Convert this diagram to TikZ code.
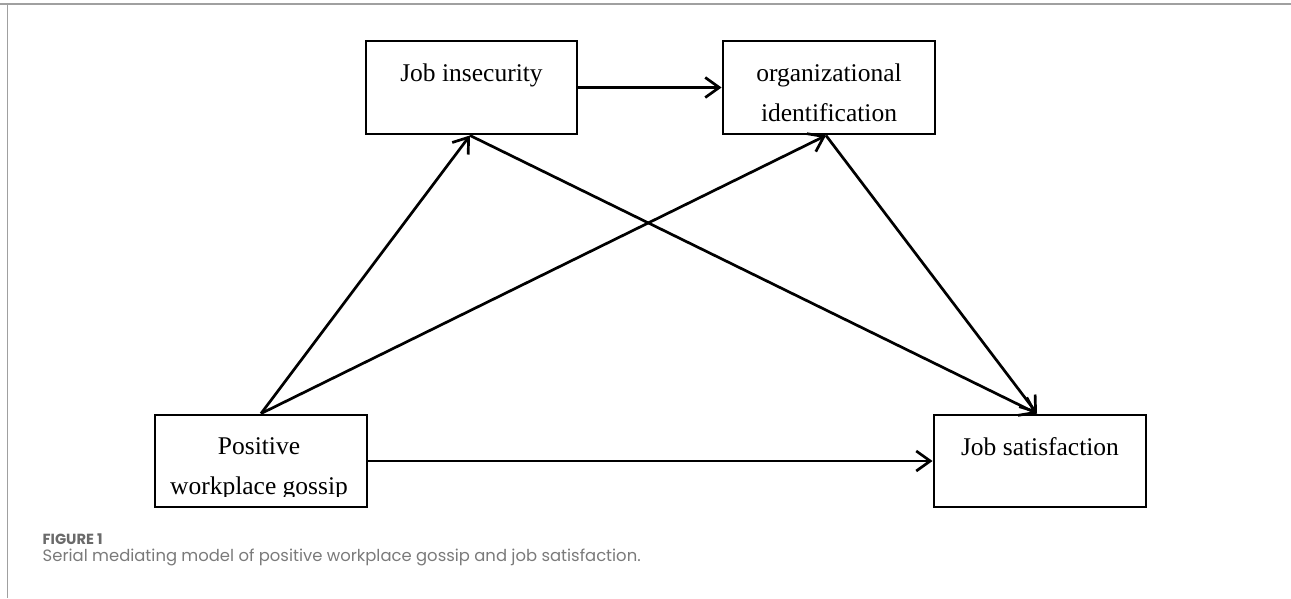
\documentclass[tikz,border=0pt]{standalone}
\usepackage{fontspec}
\usepackage{graphicx}
\setmainfont{Liberation Serif}
\newfontfamily\capfont{Poppins}
\usetikzlibrary{arrows.meta,calc}
\definecolor{framegray}{HTML}{A0A0A0}
\definecolor{capgray}{HTML}{7A7A7A}
\definecolor{figgray}{HTML}{6A6A6A}
\tikzset{
  varbox/.style={draw=black,line width=2.9pt,rectangle,inner sep=0pt},
  vartext/.style={anchor=base,inner sep=0pt,font=\fontsize{25.5}{25.5}\selectfont},
  path arrow/.style={line width=2.7pt,-{Straight Barb[length=14pt,width=20pt,line width=2.7pt]}},
}
\begin{document}
\begin{tikzpicture}[x=1pt,y=-1pt]
\useasboundingbox (0,0) rectangle (1291,598);
% frame
\draw[framegray,line width=2pt] (0,4) -- (1291,4);
\draw[framegray,line width=1pt] (7,4) -- (7,598);
% boxes
\node[varbox,minimum width=211pt,minimum height=93pt] (ji) at (471.5,87.5) {};
\node[varbox,minimum width=212pt,minimum height=93pt] (oi) at (829,87.5) {};
\node[varbox,minimum width=212pt,minimum height=92pt] (pwg) at (261,461) {};
\node[varbox,minimum width=212pt,minimum height=92pt] (js) at (1040,461) {};
% texts
\node[vartext] (jit) at (471.5,81.5) {Job insecurity};
\node[vartext] (oit1) at (829,81.5) {organizational};
\node[vartext] (oit2) at (829,121.5) {identification};
\node[vartext] (pwgt1) at (259,454) {Positive};
\begin{scope}
\clip (155,470) rectangle (367,496);
\node[vartext] (pwgt2) at (259,494.5) {workplace gossip};
\end{scope}
\node[vartext] (jst) at (1040,455) {Job satisfaction};
% connector end points
\coordinate (pwgtop) at (pwg.north);
\coordinate (jibot) at ($(ji.south)+(-1.5,0)$);
\coordinate (oibot) at ($(oi.south)+(-3,0)$);
\coordinate (jstop) at ($(js.north)+(-3,0)$);
% arrows
\draw[path arrow] (ji.east) -- (oi.west);
\draw[path arrow] (pwg.east) -- (js.west);
\draw[path arrow] (pwgtop) -- (jibot);
\draw[path arrow] (pwgtop) -- (oibot);
\draw[path arrow] (jibot) -- (jstop);
\draw[path arrow] (oibot) -- (jstop);
% caption
\node[anchor=base west,inner sep=0pt,text=figgray,font=\capfont\bfseries\fontsize{12}{12}\selectfont] (fig) at (42.5,544) {\resizebox{60pt}{!}{FIGURE 1}};
\node[anchor=base west,inner sep=0pt,text=capgray,font=\capfont\fontsize{15}{15}\selectfont] (cap) at (42.5,561.5) {\resizebox{598pt}{!}{Serial mediating model of positive workplace gossip and job satisfaction.}};
\end{tikzpicture}
\end{document}
